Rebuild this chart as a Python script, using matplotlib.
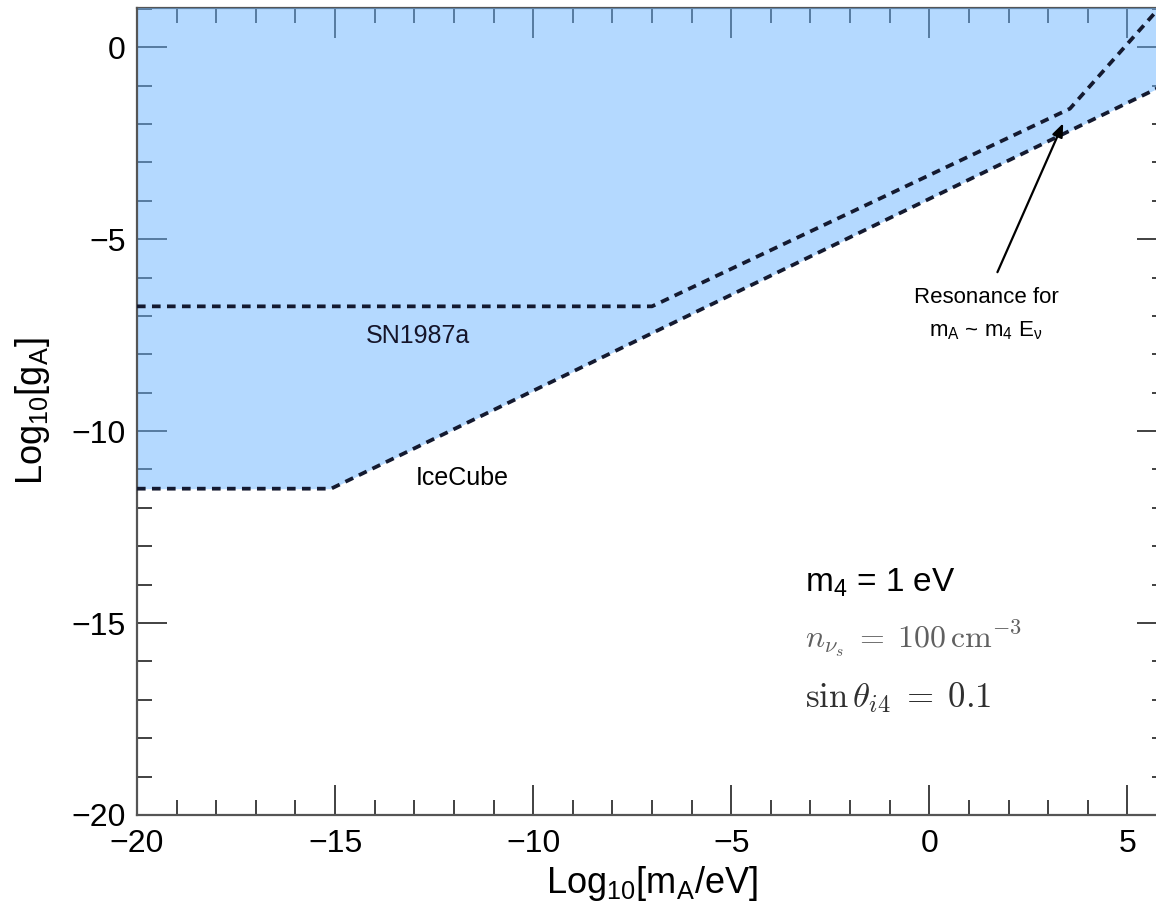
import matplotlib
matplotlib.use("Agg")
import matplotlib.pyplot as plt
from matplotlib.ticker import MultipleLocator

plt.rcParams['font.family'] = ['Liberation Sans', 'DejaVu Sans']
plt.rcParams['mathtext.fontset'] = 'custom'
plt.rcParams['mathtext.rm'] = 'Liberation Sans'
plt.rcParams['mathtext.it'] = 'Liberation Sans'
plt.rcParams['mathtext.bf'] = 'Liberation Sans:bold'
plt.rcParams['axes.axisbelow'] = True

# ---- data (log10 values) ----
icecube_x = [-20.0, -15.1, 6.0]
icecube_y = [-11.5, -11.5, -0.95]
sn_x = [-20.0, -7.0, 3.55, 6.0]
sn_y = [-6.75, -6.75, -1.6, 1.25]
xlim = (-20, 6)
ylim = (-20, 1.02)

fig = plt.figure(figsize=(11.56, 9.19), dpi=100)
ax = fig.add_axes([0.1185, 0.1132, 0.891, 0.878])

# excluded region (above IceCube curve)
ax.fill_between(icecube_x, icecube_y, [ylim[1] + 1] * len(icecube_x),
                color=(0.42, 0.71, 1.0), alpha=0.5, lw=0, zorder=2.6)

dash = (0, (2.3, 1.7))
ax.plot(icecube_x, icecube_y, color='#141a30', lw=2.7, linestyle=dash, zorder=4)
ax.plot(sn_x, sn_y, color='#141a30', lw=2.7, linestyle=dash, zorder=4)

ax.set_xlim(*xlim)
ax.set_ylim(*ylim)

ax.xaxis.set_major_locator(MultipleLocator(5))
ax.xaxis.set_minor_locator(MultipleLocator(1))
ax.yaxis.set_major_locator(MultipleLocator(5))
ax.yaxis.set_minor_locator(MultipleLocator(1))
ax.tick_params(which='both', direction='in', top=True, right=True,
               color='#333333', width=1.3, labelsize=23, labelcolor='black')
ax.tick_params(which='major', length=21.6, pad=8)
ax.tick_params(which='minor', length=10.8)
ax.tick_params(axis='x', which='major', pad=10)

for s in ax.spines.values():
    s.set_color('#555555')
    s.set_linewidth(1.6)
ax.spines['left'].set_zorder(3)
ax.spines['bottom'].set_zorder(3)

ax.set_xlabel('Log$_{10}$[m$_{A}$/eV]', fontsize=26, labelpad=4)
ax.set_ylabel('Log$_{10}$[g$_{A}$]', fontsize=26, labelpad=14)

ax.text(-12.9, -7.71, 'SN1987a', fontsize=18, ha='center', va='baseline',
        color='#15152a', zorder=5)
ax.text(-11.8, -11.41, 'IceCube', fontsize=18, ha='center', va='baseline',
        color='black', zorder=5)

ax.annotate('', xy=(3.38, -1.98), xytext=(1.72, -5.86),
            arrowprops=dict(arrowstyle='-|>,head_length=0.8,head_width=0.32',
                            color='black', lw=1.6, shrinkA=0, shrinkB=0),
            zorder=5)
ax.text(1.44, -6.67, 'Resonance for', fontsize=16, ha='center', va='baseline', zorder=5)
ax.text(1.42, -7.53, r'm$_{\mathregular{A}}$ ~ m$_{\mathregular{4}}$ E$_{\mathregular{\nu}}$',
        fontsize=16, ha='center', va='baseline', zorder=5)

ax.text(-3.13, -14.19, r'm$_{\mathregular{4}}$ = 1 eV', fontsize=24, ha='left',
        va='baseline', zorder=5)
ax.text(-3.13, -15.63, r'$n_{\nu_s} \;=\; 100\,\mathrm{cm}^{-3}$', fontsize=23,
        ha='left', va='baseline', color='#606060', zorder=5,
        math_fontfamily='cm')
ax.text(-3.13, -17.19, r'$\sin\theta_{i4} \;=\; 0.1$', fontsize=25,
        ha='left', va='baseline', color='#303030', zorder=5,
        math_fontfamily='cm')

fig.savefig('out.png', dpi=100)
